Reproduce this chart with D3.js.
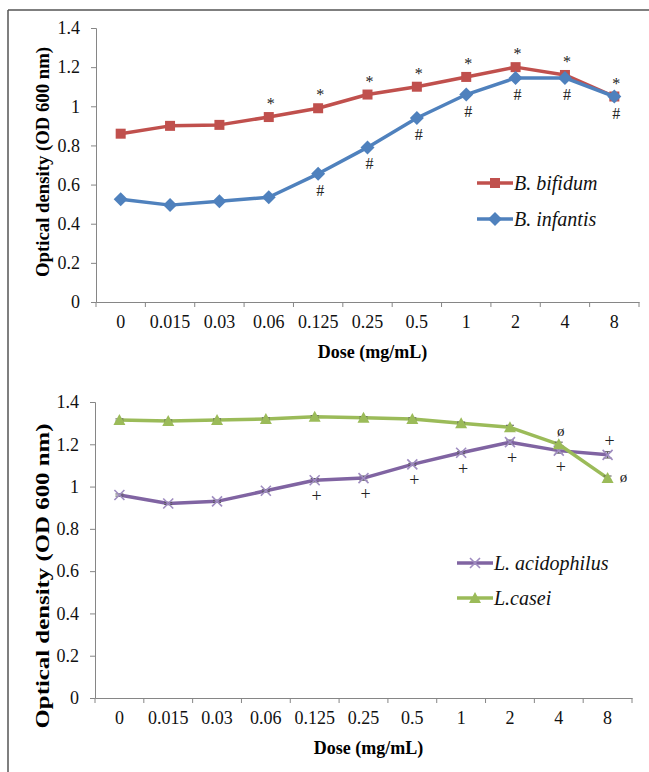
<!DOCTYPE html>
<html>
<head>
<meta charset="utf-8">
<script src="https://cdn.jsdelivr.net/npm/d3@7"></script>
<style>
  body { margin: 0; background: #fff; }
</style>
</head>
<body>
<div id="chart"></div>
<script>
// dose categories (x axis)
const doses = ["0", "0.015", "0.03", "0.06", "0.125", "0.25", "0.5", "1", "2", "4", "8"];
const yTicks = [0, 0.2, 0.4, 0.6, 0.8, 1, 1.2, 1.4];

// top panel: Bifidobacterium
const bifidum  = [0.86, 0.90, 0.905, 0.945, 0.99, 1.06, 1.10, 1.15, 1.20, 1.16, 1.05];
const infantis = [0.525, 0.495, 0.515, 0.535, 0.655, 0.79, 0.94, 1.06, 1.145, 1.145, 1.05];
const bifidumMarks  = ["", "", "", "*", "*", "*", "*", "*", "*", "*", "*"];
const infantisMarks = ["", "", "", "", "#", "#", "#", "#", "#", "#", "#"];

// bottom panel: Lactobacillus
const acidophilus = [0.96, 0.92, 0.93, 0.98, 1.03, 1.04, 1.105, 1.16, 1.21, 1.17, 1.15];
const acidErr     = [0.005, 0.005, 0.005, 0.005, 0.008, 0.01, 0.005, 0.005, 0.01, 0.012, 0.015];
const casei       = [1.315, 1.31, 1.315, 1.32, 1.33, 1.325, 1.32, 1.30, 1.28, 1.20, 1.04];
const caseiErr    = [0.005, 0.005, 0.005, 0.005, 0.005, 0.005, 0.005, 0.005, 0.01, 0.01, 0.01];
const acidMarks   = ["", "", "", "", "+", "+", "+", "+", "+", "+", "+"];
const caseiMarks  = ["", "", "", "", "", "", "", "", "", "ø", "ø"];

// find a serif face that is really installed
function pickFont(cands) {
  const c = document.createElement("canvas").getContext("2d");
  const probe = "mmmwwwiiilll0.015 Dose";
  c.font = "20px monospace";
  const base = c.measureText(probe).width;
  for (const f of cands) {
    c.font = `20px "${f}", monospace`;
    if (c.measureText(probe).width != base) return f;
  }
  return "serif";
}
const serifName = pickFont(["Liberation Serif", "Tinos", "Times New Roman", "DejaVu Serif", "Noto Serif", "FreeSerif"]);
const FONT = `"${serifName}", serif`;

const W = 649, H = 772;
const svg = d3.select("#chart").append("svg")
  .attr("width", W).attr("height", H)
  .style("font-family", FONT);

// frame (only left and top edges show in the figure)
svg.append("line").attr("x1", 8).attr("y1", 10).attr("x2", W).attr("y2", 10)
  .attr("stroke", "#555").attr("stroke-width", 1.5);
svg.append("line").attr("x1", 8).attr("y1", 10).attr("x2", 8).attr("y2", H)
  .attr("stroke", "#555").attr("stroke-width", 1.5);

function marker(g, type, color, cx, cy) {
  if (type == "square") {
    g.append("rect").attr("x", cx - 5).attr("y", cy - 5).attr("width", 10).attr("height", 10)
      .attr("fill", color);
  } else if (type == "diamond") {
    g.append("path").attr("d", `M${cx},${cy - 7}L${cx + 7},${cy}L${cx},${cy + 7}L${cx - 7},${cy}Z`)
      .attr("fill", color);
  } else if (type == "triangle") {
    g.append("path").attr("d", `M${cx},${cy - 6}L${cx + 6},${cy + 5}L${cx - 6},${cy + 5}Z`)
      .attr("fill", color);
  } else if (type == "x") {
    g.append("path").attr("d", `M${cx - 5},${cy - 5}L${cx + 5},${cy + 5}M${cx - 5},${cy + 5}L${cx + 5},${cy - 5}`)
      .attr("stroke", "#9f8cc0").attr("stroke-width", 1.6).attr("fill", "none");
  }
}

function drawPanel(p) {
  const x = d3.scaleBand().domain(doses).range([p.left, p.right]).padding(0);
  const y = d3.scaleLinear().domain([0, 1.4]).range([p.bottom, p.top]);
  const g = svg.append("g");

  // y axis
  const yAxis = g.append("g").attr("transform", `translate(${p.left},0)`)
    .call(d3.axisLeft(y).tickValues(yTicks).tickSize(5).tickPadding(11)
      .tickFormat(d => d3.format("")(+d.toFixed(1))));
  yAxis.attr("font-family", null).style("font-family", FONT);
  yAxis.select(".domain").attr("stroke", "#868686");
  yAxis.selectAll(".tick line").attr("stroke", "#868686");
  yAxis.selectAll(".tick text").attr("font-size", 18).attr("fill", "#111");

  // x axis: tick marks on category boundaries, labels at centres
  const xAxis = g.append("g").attr("transform", `translate(0,${p.bottom})`)
    .call(d3.axisBottom(x).tickSize(0).tickPadding(13));
  xAxis.attr("font-family", null).style("font-family", FONT);
  xAxis.select(".domain").attr("stroke", "#868686");
  xAxis.selectAll(".tick text").attr("font-size", 18).attr("fill", "#111");
  const bounds = doses.map(d => x(d)).concat([p.right]);
  g.selectAll(".xb").data(bounds).enter().append("line")
    .attr("x1", d => d).attr("x2", d => d)
    .attr("y1", p.bottom).attr("y2", p.bottom + 5)
    .attr("stroke", "#868686");

  // axis titles
  g.append("text")
    .attr("x", (p.left + p.right) / 2 + 5).attr("y", p.bottom + 56)
    .attr("text-anchor", "middle").attr("font-weight", "bold").attr("font-size", 18)
    .text("Dose (mg/mL)");
  g.append("text")
    .attr("transform", `translate(49,${p.titleY}) rotate(-90)`)
    .attr("text-anchor", "middle").attr("font-weight", "bold").attr("font-size", 18)
    .attr("textLength", p.titleLen).attr("lengthAdjust", "spacingAndGlyphs")
    .text("Optical density (OD 600 nm)");

  const cx = d => x(d) + x.bandwidth() / 2;

  p.series.forEach(s => {
    const line = d3.line().x((v, i) => cx(doses[i])).y(v => y(v));
    g.append("path").datum(s.values)
      .attr("d", line).attr("fill", "none")
      .attr("stroke", s.color).attr("stroke-width", 3.5).attr("stroke-linejoin", "round");
    if (s.err) {
      s.values.forEach((v, i) => {
        const e = s.err[i], xx = cx(doses[i]);
        g.append("path")
          .attr("d", `M${xx - 4},${y(v + e)}H${xx + 4}M${xx},${y(v + e)}V${y(v - e)}M${xx - 4},${y(v - e)}H${xx + 4}`)
          .attr("stroke", "#555").attr("stroke-width", 1).attr("fill", "none");
      });
    }
    s.values.forEach((v, i) => marker(g, s.marker, s.color, cx(doses[i]), y(v)));
  });

  // significance marks
  p.series.forEach(s => {
    s.marks.forEach((m, i) => {
      if (!m) return;
      let xx = cx(doses[i]), yy = y(s.values[i]);
      let pos = s.markPos(i);
      let t = g.append("text").attr("text-anchor", "middle").attr("fill", "#222")
        .attr("font-size", s.markSize).text(m);
      if (pos == "above") t.attr("x", xx + 2).attr("y", yy - 8);
      else if (pos == "below") t.attr("x", xx + 2).attr("y", yy + 22);
      else if (pos == "right") t.attr("x", xx + 16).attr("y", yy + 4);
    });
  });

  // legend
  p.series.forEach((s, i) => {
    const ly = p.legendY + i * p.legendGap;
    g.append("line").attr("x1", p.legendX).attr("x2", p.legendX + 36)
      .attr("y1", ly).attr("y2", ly).attr("stroke", s.color).attr("stroke-width", 3.5);
    marker(g, s.marker, s.color, p.legendX + 18, ly);
    g.append("text").attr("x", p.legendX + 37).attr("y", ly + 7)
      .attr("font-size", 20).attr("font-style", "italic").attr("fill", "#111")
      .text(s.name);
  });
}

drawPanel({
  left: 96, right: 639, top: 28, bottom: 302,
  titleY: 162, titleLen: 230,
  legendX: 477, legendY: 183, legendGap: 36,
  series: [
    { name: "B. bifidum", values: bifidum, color: "#C0504D", marker: "square",
      marks: bifidumMarks, markSize: 16, markPos: i => "above" },
    { name: "B. infantis", values: infantis, color: "#4F81BD", marker: "diamond",
      marks: infantisMarks, markSize: 16, markPos: i => "below" }
  ]
});

drawPanel({
  left: 95, right: 632, top: 402, bottom: 698,
  titleY: 576, titleLen: 305,
  legendX: 457, legendY: 563, legendGap: 35,
  series: [
    { name: "L. acidophilus", values: acidophilus, err: acidErr, color: "#8064A2", marker: "x",
      marks: acidMarks, markSize: 18, markPos: i => (i == doses.length - 1 ? "above" : "below") },
    { name: "L.casei", values: casei, err: caseiErr, color: "#9BBB59", marker: "triangle",
      marks: caseiMarks, markSize: 15, markPos: i => (i == doses.length - 1 ? "right" : "above") }
  ]
});
</script>
</body>
</html>
